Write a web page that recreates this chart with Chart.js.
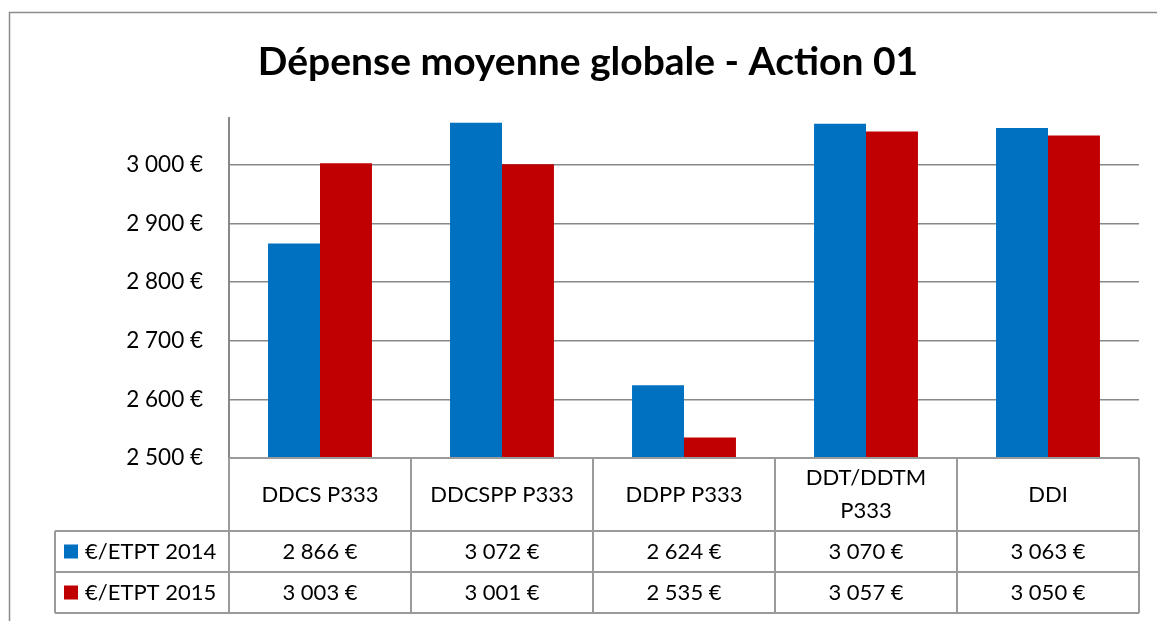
<!DOCTYPE html>
<html>
<head>
<meta charset="utf-8">
<script src="https://cdn.jsdelivr.net/npm/chart.js@4"></script>
<style>
  html, body { margin: 0; padding: 0; background: #fff; }
  #wrap { width: 1157px; height: 621px; }
</style>
</head>
<body>
<div id="wrap"><canvas id="chart" width="1157" height="621"></canvas></div>
<script>
const title = "Dépense moyenne globale - Action 01"
const categories = ["DDCS P333", "DDCSPP P333", "DDPP P333", ["DDT/DDTM", "P333"], "DDI"]
const seriesLabels = ["€/ETPT 2014", "€/ETPT 2015"]
const values2014 = [2866, 3072, 2624, 3070, 3063]
const values2015 = [3003, 3001, 2535, 3057, 3050]
const seriesColors = ["#0070C0", "#C00000"]
const yMin = 2500
const yMax = 3080
const yStep = 100

const FONT = "Lato, Calibri, 'Open Sans', sans-serif"
const LINE = "#9a9a9a"

const fmt = v => String(v).replace(/\B(?=(\d{3})+(?!\d))/g, " ") + " €"

// Title, frame and the data table under the plot
const tablePlugin = {
  id: "dataTable",
  afterDraw(chart) {
    const ctx = chart.ctx
    const area = chart.chartArea
    const x = chart.scales.x
    const colW = area.width / categories.length
    const rows = [area.bottom, area.bottom + 73, area.bottom + 114, area.bottom + 155]
    const legendLeft = 55

    ctx.save()

    // outer frame
    ctx.strokeStyle = "#8c8c8c"
    ctx.lineWidth = 1.5
    ctx.strokeRect(9.5, 12.5, 1170, 640)

    // title
    ctx.fillStyle = "#000"
    ctx.font = "bold 39px " + FONT
    ctx.textAlign = "center"
    ctx.textBaseline = "middle"
    ctx.fillText(title, 588, 62)

    // table grid
    ctx.strokeStyle = LINE
    ctx.lineWidth = 2
    ctx.beginPath()
    for (let i = 0; i <= categories.length; i++) {
      const px = Math.round(area.left + i * colW)
      ctx.moveTo(px, rows[0])
      ctx.lineTo(px, rows[3])
    }
    ctx.moveTo(legendLeft, rows[1])
    ctx.lineTo(legendLeft, rows[3])
    ctx.moveTo(area.left, rows[0])
    ctx.lineTo(area.right, rows[0])
    for (let r = 1; r <= 3; r++) {
      ctx.moveTo(legendLeft, rows[r])
      ctx.lineTo(area.right, rows[r])
    }
    ctx.stroke()

    // category labels
    ctx.fillStyle = "#000"
    ctx.font = "22px " + FONT
    ctx.textAlign = "center"
    categories.forEach((c, i) => {
      const cx = x.getPixelForValue(i)
      const lines = Array.isArray(c) ? c : [c]
      const mid = (rows[0] + rows[1]) / 2
      lines.forEach((t, k) => {
        ctx.fillText(t, cx, mid + (k - (lines.length - 1) / 2) * 33)
      })
    })

    // series rows
    const series = [values2014, values2015]
    series.forEach((vals, s) => {
      const mid = (rows[s + 1] + rows[s + 2]) / 2
      ctx.fillStyle = seriesColors[s]
      ctx.fillRect(64, mid - 7, 14, 14)
      ctx.fillStyle = "#000"
      ctx.textAlign = "left"
      ctx.fillText(seriesLabels[s], 85, mid)
      ctx.textAlign = "center"
      vals.forEach((v, i) => {
        ctx.fillText(fmt(v), x.getPixelForValue(i), mid)
      })
    })

    ctx.restore()
  }
}

new Chart(document.getElementById("chart"), {
  type: "bar",
  data: {
    labels: categories,
    datasets: [
      {
        label: seriesLabels[0],
        data: values2014,
        backgroundColor: seriesColors[0],
        barPercentage: 1,
        categoryPercentage: 0.571
      },
      {
        label: seriesLabels[1],
        data: values2015,
        backgroundColor: seriesColors[1],
        barPercentage: 1,
        categoryPercentage: 0.571
      }
    ]
  },
  options: {
    responsive: false,
    animation: false,
    layout: {
      padding: { top: 118, bottom: 163, right: 18, left: 0 }
    },
    plugins: {
      legend: { display: false },
      tooltip: { enabled: false }
    },
    scales: {
      x: {
        display: false
      },
      y: {
        min: yMin,
        max: yMax,
        afterFit: scale => { scale.width = 229 },
        grid: {
          color: "#888888",
          lineWidth: 1.5,
          drawTicks: false
        },
        border: {
          display: true,
          color: "#888888",
          width: 2
        },
        ticks: {
          stepSize: yStep,
          includeBounds: false,
          padding: 26,
          color: "#000",
          font: { family: FONT, size: 22.5 },
          callback: v => fmt(v)
        }
      }
    }
  },
  plugins: [tablePlugin]
})
</script>
</body>
</html>
